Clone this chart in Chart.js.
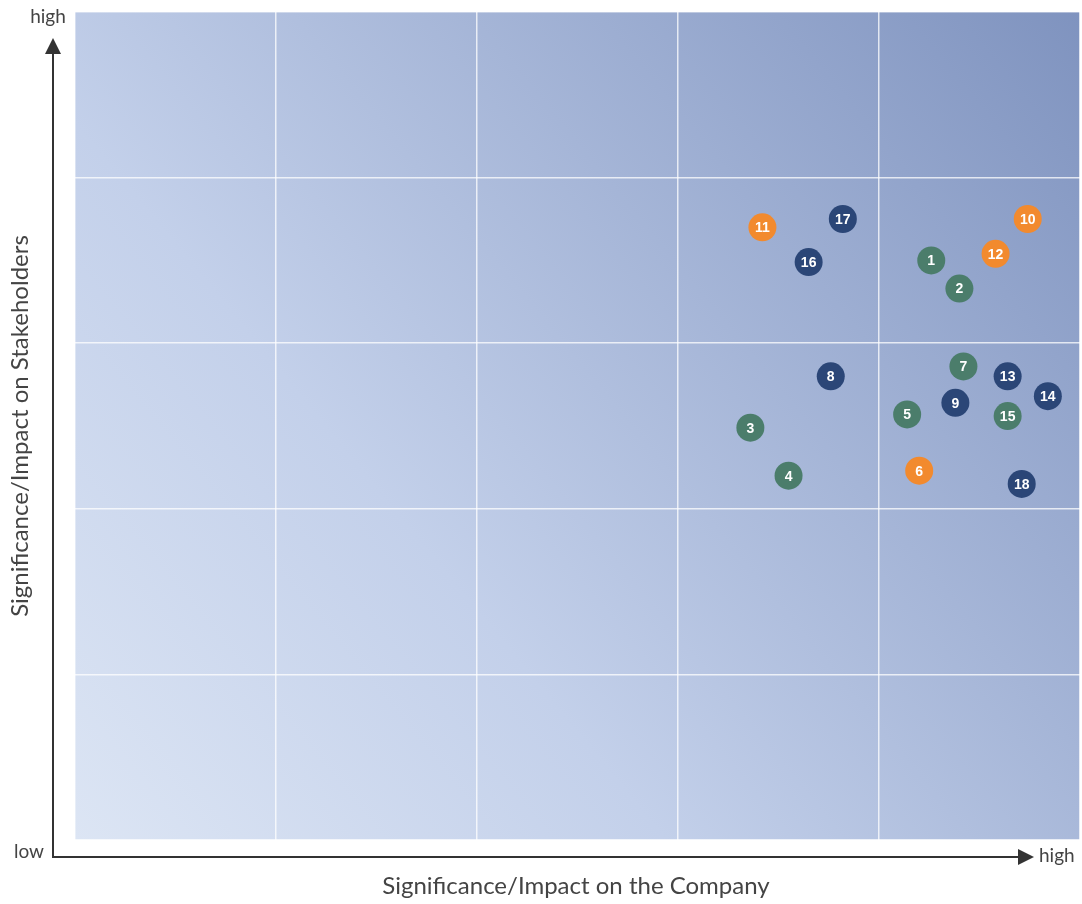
<!DOCTYPE html>
<html>
<head>
<meta charset="utf-8">
<script src="https://cdn.jsdelivr.net/npm/chart.js@4.4.0/dist/chart.umd.min.js"></script>
<style>
  html, body { margin: 0; padding: 0; background: #fff; overflow: hidden; }
  canvas { display: block; }
</style>
</head>
<body>
<canvas id="matrix" width="1082" height="904"></canvas>
<script>
// topic numbers and where they sit (0..5 on both axes)
const topics = ["1", "2", "3", "4", "5", "6", "7", "8", "9", "10", "11", "12", "13", "14", "15", "16", "17", "18"];
const companyImpact = [4.26, 4.40, 3.36, 3.55, 4.14, 4.20, 4.42, 3.76, 4.38, 4.74, 3.42, 4.58, 4.64, 4.84, 4.64, 3.65, 3.82, 4.71];
const stakeholderImpact = [3.50, 3.33, 2.49, 2.20, 2.57, 2.23, 2.86, 2.80, 2.64, 3.75, 3.70, 3.54, 2.80, 2.68, 2.56, 3.49, 3.75, 2.15];
const topicGroup = ["env", "env", "env", "env", "env", "soc", "env", "gov", "gov", "soc", "soc", "soc", "gov", "gov", "env", "gov", "gov", "gov"];

const groupColors = { env: "#4b7d6b", gov: "#2b4677", soc: "#f28a2e" };
const xTitle = "Significance/Impact on the Company";
const yTitle = "Significance/Impact on Stakeholders";

function pointsFor(group) {
  const pts = [];
  topics.forEach((t, i) => {
    if (topicGroup[i] === group) pts.push({ x: companyImpact[i], y: stakeholderImpact[i], label: t });
  });
  return pts;
}

// gradient background inside the plot area
const backdrop = {
  id: "backdrop",
  beforeDraw(chart) {
    const { ctx, chartArea: a } = chart;
    const g = ctx.createLinearGradient(a.left, a.bottom, a.right, a.top);
    g.addColorStop(0, "#dce5f4");
    g.addColorStop(0.35, "#c3d0ea");
    g.addColorStop(1, "#7f93bf");
    ctx.save();
    ctx.fillStyle = g;
    ctx.fillRect(a.left, a.top, a.right - a.left, a.bottom - a.top);
    ctx.restore();
  }
};

// arrows, low/high words and axis titles
const axesArrows = {
  id: "axesArrows",
  afterDraw(chart) {
    const { ctx } = chart;
    const ox = 53, oy = 857;
    ctx.save();
    ctx.strokeStyle = "#333";
    ctx.fillStyle = "#333";
    ctx.lineWidth = 2;
    ctx.beginPath();
    ctx.moveTo(ox, 40);
    ctx.lineTo(ox, oy);
    ctx.lineTo(1030, oy);
    ctx.stroke();
    ctx.beginPath();
    ctx.moveTo(ox, 38); ctx.lineTo(ox - 8, 54); ctx.lineTo(ox + 8, 54); ctx.closePath(); ctx.fill();
    ctx.beginPath();
    ctx.moveTo(1034, oy); ctx.lineTo(1018, oy - 8); ctx.lineTo(1018, oy + 8); ctx.closePath(); ctx.fill();

    ctx.fillStyle = "#444";
    ctx.font = "19px Lato";
    ctx.textBaseline = "middle";
    ctx.textAlign = "center";
    ctx.fillText("high", 48, 17);
    ctx.fillText("low", 29, 852);
    ctx.textAlign = "left";
    ctx.fillText("high", 1039, 856);

    ctx.font = "24px Lato";
    ctx.textAlign = "center";
    ctx.fillText(xTitle, 576, 886);
    ctx.save();
    ctx.translate(20, 426);
    ctx.rotate(-Math.PI / 2);
    ctx.fillText(yTitle, 0, 0);
    ctx.restore();
    ctx.restore();
  }
};

// numbers inside the bubbles
const bubbleLabels = {
  id: "bubbleLabels",
  afterDatasetsDraw(chart) {
    const { ctx } = chart;
    ctx.save();
    ctx.fillStyle = "#fff";
    ctx.font = "bold 14px 'Liberation Sans', Arial, sans-serif";
    ctx.textAlign = "center";
    ctx.textBaseline = "middle";
    chart.data.datasets.forEach((ds, di) => {
      chart.getDatasetMeta(di).data.forEach((el, i) => {
        ctx.fillText(ds.data[i].label, el.x, el.y + 1);
      });
    });
    ctx.restore();
  }
};

const datasets = ["env", "gov", "soc"].map(g => ({
  label: g,
  data: pointsFor(g),
  backgroundColor: groupColors[g],
  borderWidth: 0,
  pointRadius: 14,
  pointHoverRadius: 14
}));

new Chart(document.getElementById("matrix"), {
  type: "scatter",
  data: { datasets },
  options: {
    responsive: false,
    animation: false,
    layout: { autoPadding: false, padding: { left: 75, right: 2, top: 12, bottom: 64 } },
    plugins: { legend: { display: false }, tooltip: { enabled: false } },
    scales: {
      x: {
        min: 0, max: 5,
        ticks: { display: false, stepSize: 1 },
        border: { display: false },
        grid: { color: "rgba(255,255,255,0.75)", lineWidth: 1.5, drawTicks: false }
      },
      y: {
        min: 0, max: 5,
        ticks: { display: false, stepSize: 1 },
        border: { display: false },
        grid: { color: "rgba(255,255,255,0.75)", lineWidth: 1.5, drawTicks: false }
      }
    }
  },
  plugins: [backdrop, axesArrows, bubbleLabels]
});
</script>
</body>
</html>
